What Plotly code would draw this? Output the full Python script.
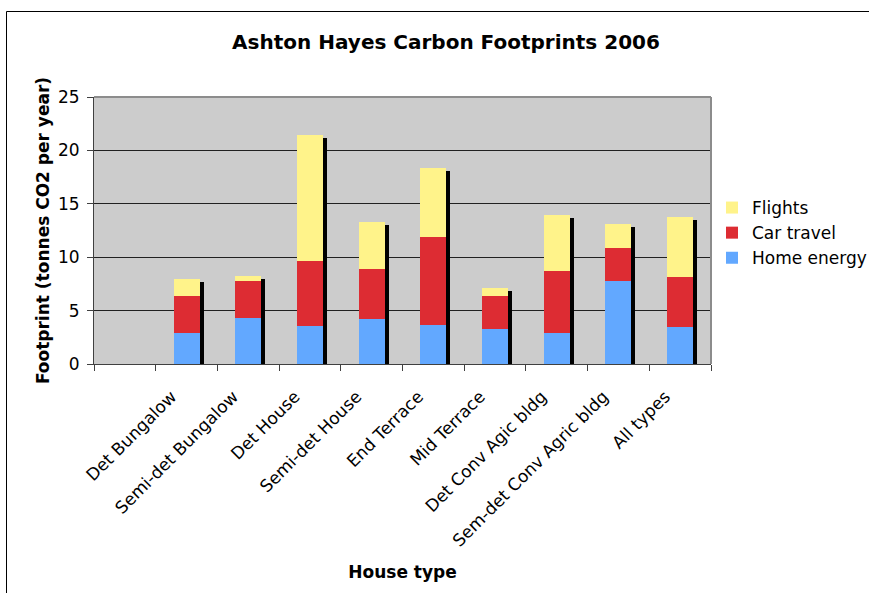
import plotly.graph_objects as go

categories = ["Det Bungalow", "Semi-det Bungalow", "Det House", "Semi-det House",
              "End Terrace", "Mid Terrace", "Det Conv Agic bldg",
              "Sem-det Conv Agric bldg", "All types"]
home_energy = [2.88, 4.29, 3.54, 4.19, 3.63, 3.26, 2.88, 7.76, 3.44]
car_travel = [3.47, 3.47, 6.10, 4.70, 8.26, 3.09, 5.82, 3.10, 4.70]
flights = [1.60, 0.47, 11.82, 4.41, 6.48, 0.75, 5.25, 2.25, 5.63]

y_ticks = [0, 5, 10, 15, 20, 25]

FONT = "DejaVu Sans"
x = list(range(len(categories)))
totals = [h + c + f for h, c, f in zip(home_energy, car_travel, flights)]
car_base = home_energy
fl_base = [h + c for h, c in zip(home_energy, car_travel)]

BW = 0.42
fig = go.Figure()
# drop shadow
fig.add_trace(go.Bar(x=x, y=totals, base=-0.28, width=BW, offset=-BW / 2 + 0.065,
                     marker=dict(color="black", line=dict(width=0)), showlegend=False,
                     hoverinfo="skip"))
fig.add_trace(go.Bar(name="Home energy", x=x, y=home_energy, base=0, width=BW,
                     marker=dict(color="#62A8FF", line=dict(width=0))))
fig.add_trace(go.Bar(name="Car travel", x=x, y=car_travel, base=car_base, width=BW,
                     marker=dict(color="#DD2C33", line=dict(width=0))))
fig.add_trace(go.Bar(name="Flights", x=x, y=flights, base=fl_base, width=BW,
                     marker=dict(color="#FFF38A", line=dict(width=0))))

L, R, T, B = 94, 711, 97, 364
W, H = 869, 593

fig.update_layout(
    width=W, height=H,
    margin=dict(l=L, r=W - R, t=T, b=H - B, pad=0, autoexpand=False),
    barmode="overlay",
    paper_bgcolor="white",
    plot_bgcolor="#CCCCCC",
    font=dict(family=FONT, size=17, color="black"),
    title=dict(text="Ashton Hayes Carbon Footprints 2006", x=446 / W, xanchor="center",
               y=1 - 42 / H, yanchor="middle", xref="container", yref="container",
               font=dict(family=FONT, size=20, weight="bold", color="black")),
    legend=dict(x=(712 - L) / (R - L), xanchor="left", y=1 - (233 - T) / (B - T), yanchor="middle",
                traceorder="reversed", font=dict(family=FONT, size=17), itemwidth=30,
                bgcolor="rgba(0,0,0,0)", tracegroupgap=0),
    showlegend=True,
    bargap=0,
)
fig.update_xaxes(
    range=[-1.5, len(categories) - 0.5], automargin=False,
    tickmode="array", tickvals=x, ticktext=categories, tickangle=-45,
    ticklabelstandoff=15, ticklabelshift=-15,
    ticks="", showgrid=False, zeroline=False,
    showline=True, linecolor="#404040", linewidth=1,
    tickfont=dict(family=FONT, size=17, color="black"),
    minor=dict(tickmode="array", tickvals=[i - 0.5 for i in range(-1, len(categories) + 1)],
               ticks="outside", ticklen=6, tickcolor="#404040", showgrid=False),
    title=dict(text="House type", font=dict(family=FONT, size=17, weight="bold"), standoff=16),
)
fig.update_yaxes(
    range=[0, 25], tickmode="array", tickvals=y_ticks, automargin=False,
    ticks="outside", ticklen=6, tickcolor="#404040", ticklabelstandoff=4,
    showgrid=True, gridcolor="#202020", gridwidth=1, zeroline=False,
    showline=True, linecolor="#404040", linewidth=1,
    tickfont=dict(family=FONT, size=17, color="black"),
    title=dict(text="Footprint (tonnes CO2 per year)", font=dict(family=FONT, size=17, weight="bold"),
               standoff=4),
)
# plot-area border (top/right grey)
fig.add_shape(type="line", xref="paper", yref="paper", x0=0, x1=1, y0=1, y1=1,
              line=dict(color="#8C8C8C", width=2), layer="above")
fig.add_shape(type="line", xref="paper", yref="paper", x0=1, x1=1, y0=0, y1=1,
              line=dict(color="#8C8C8C", width=2), layer="above")
# chart-area border
fig.add_shape(type="rect", xref="paper", yref="paper",
              x0=(6.5 - L) / (R - L), x1=3, y0=-3, y1=1 + (T - 11.5) / (B - T),
              line=dict(color="black", width=1), fillcolor="rgba(0,0,0,0)", layer="above")

fig.write_html("out.html", config={"displayModeBar": False},
               post_script="document.body.style.margin='0px';")
